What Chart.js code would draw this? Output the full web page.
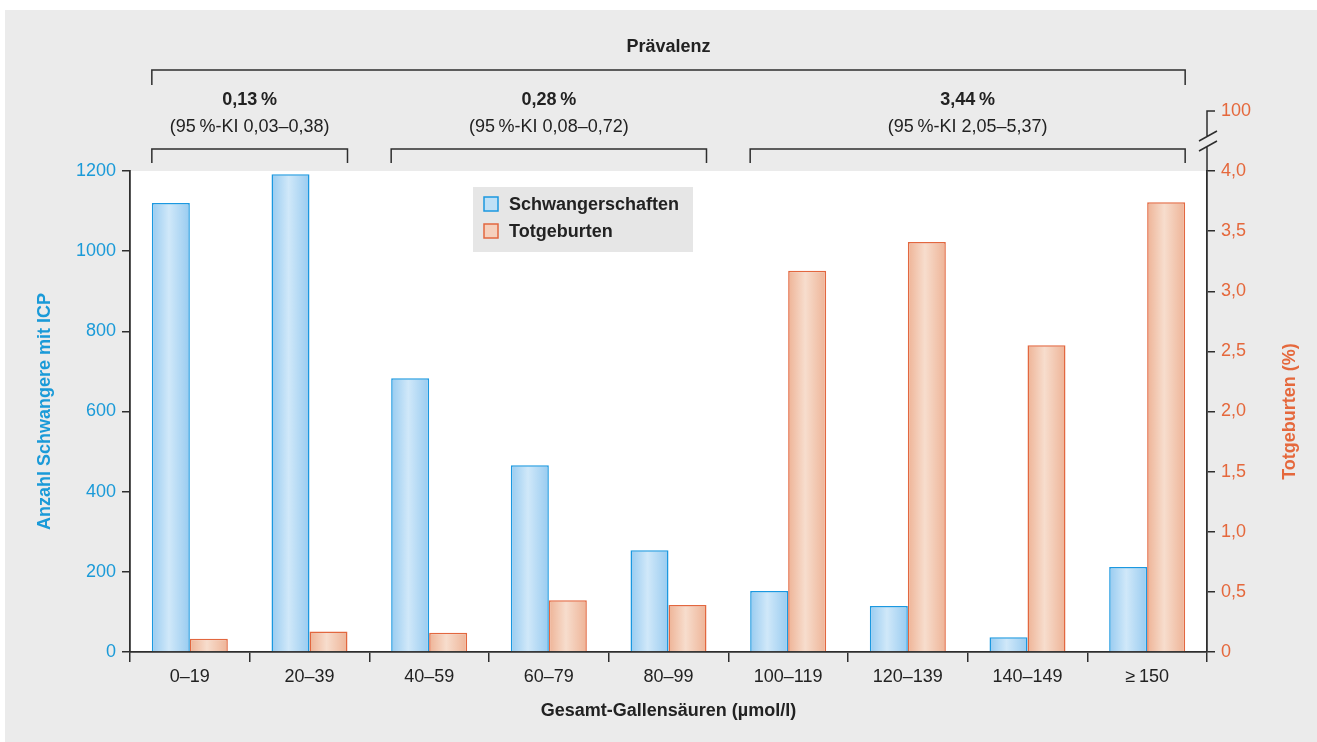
<!DOCTYPE html>
<html>
<head>
<meta charset="utf-8">
<script src="https://cdn.jsdelivr.net/npm/chart.js@4.4.1/dist/chart.umd.min.js"></script>
<style>
    html, body { margin: 0; padding: 0; background: #fff; }
    #wrap { position: absolute; left: 5px; top: 10px; width: 1312px; height: 732px; background: #ebebeb; }
</style>
</head>
<body>
<div id="wrap"><canvas id="chart" width="1312" height="732"></canvas></div>
<script>
// Data
const categories = ['0–19', '20–39', '40–59', '60–79', '80–99', '100–119', '120–139', '140–149', '≥\u2009150'];
const pregnancies = [1120, 1192, 683, 466, 254, 152, 115, 37, 212];
const stillbirths = [0.11, 0.17, 0.16, 0.43, 0.39, 3.17, 3.41, 2.55, 3.74];

// Prävalenz groups (first / last category index)
const groupStart = [0, 2, 5];
const groupEnd = [1, 4, 8];
const groupRate = ['0,13\u2009%', '0,28\u2009%', '3,44\u2009%'];
const groupCI = ['(95\u2009%-KI 0,03–0,38)', '(95\u2009%-KI 0,08–0,72)', '(95\u2009%-KI 2,05–5,37)'];

const BLUE = '#1a9ad8';
const ORANGE = '#e5683c';
const AXIS = '#2e2e2e';
const TEXT = '#222';
const FONT = "'Liberation Sans', Arial, sans-serif";

Chart.defaults.font.family = FONT;
Chart.defaults.font.size = 18;

const decor = {
    id: 'decor',
    beforeDraw(chart) {
        const { ctx, chartArea: a } = chart;
        ctx.save();
        ctx.fillStyle = '#fff';
        ctx.fillRect(a.left, a.top, a.right - a.left, a.bottom - a.top);
        ctx.restore();
    },
    beforeDatasetsDraw(chart) {
        // horizontal shading on each bar
        const ctx = chart.ctx;
        const shades = [['#98cbf0', '#d0e8f9'], ['#eeb396', '#f7ddcd']];
        chart.data.datasets.forEach((ds, di) => {
            chart.getDatasetMeta(di).data.forEach(el => {
                const g = ctx.createLinearGradient(el.x - el.width / 2, 0, el.x + el.width / 2, 0);
                g.addColorStop(0, shades[di][0]);
                g.addColorStop(0.45, shades[di][1]);
                g.addColorStop(1, shades[di][0]);
                el.options.backgroundColor = g;
            });
        });
    },
    afterDraw(chart) {
        const { ctx, chartArea: a } = chart;
        const m0 = chart.getDatasetMeta(0).data;
        const m1 = chart.getDatasetMeta(1).data;
        const leftOf = i => m0[i].x - m0[i].width / 2;
        const rightOf = i => m1[i].x + m1[i].width / 2;

        ctx.save();
        ctx.strokeStyle = AXIS;
        ctx.lineWidth = 1.5;
        ctx.fillStyle = TEXT;
        ctx.textAlign = 'center';
        ctx.textBaseline = 'middle';

        const bracket = (x1, x2, y, legs) => {
            ctx.beginPath();
            ctx.moveTo(x1, y + legs);
            ctx.lineTo(x1, y);
            ctx.lineTo(x2, y);
            ctx.lineTo(x2, y + legs);
            ctx.stroke();
        };

        // overall bracket
        const bx1 = leftOf(0), bx2 = rightOf(categories.length - 1);
        bracket(bx1, bx2, a.top - 101, 15);
        ctx.font = 'bold 18px ' + FONT;
        ctx.fillText('Prävalenz', (bx1 + bx2) / 2, a.top - 124);

        // group brackets
        groupStart.forEach((s, g) => {
            const x1 = leftOf(s), x2 = rightOf(groupEnd[g]);
            bracket(x1, x2, a.top - 22, 14);
            ctx.font = 'bold 18px ' + FONT;
            ctx.fillText(groupRate[g], (x1 + x2) / 2, a.top - 71);
            ctx.font = '18px ' + FONT;
            ctx.fillText(groupCI[g], (x1 + x2) / 2, a.top - 44);
        });

        // right axis: break and 100 tick
        const rx = chart.scales.y1.left;
        ctx.beginPath();
        ctx.moveTo(rx, a.top); ctx.lineTo(rx, a.top - 25);
        ctx.moveTo(rx, a.top - 34); ctx.lineTo(rx, a.top - 60); ctx.lineTo(rx + 8, a.top - 60);
        ctx.moveTo(rx - 8, a.top - 20); ctx.lineTo(rx + 10, a.top - 30);
        ctx.moveTo(rx - 8, a.top - 30); ctx.lineTo(rx + 10, a.top - 40);
        ctx.stroke();
        ctx.fillStyle = ORANGE;
        ctx.textAlign = 'left';
        ctx.font = '18px ' + FONT;
        ctx.fillText('100', rx + 14, a.top - 60);

        // right axis title, reading bottom to top
        ctx.save();
        ctx.translate(chart.width - 27, (a.top + a.bottom) / 2);
        ctx.rotate(-Math.PI / 2);
        ctx.textAlign = 'center';
        ctx.font = 'bold 18px ' + FONT;
        ctx.fillText('Totgeburten (%)', 0, 0);
        ctx.restore();

        // legend
        const lx = a.left + 343, ly = a.top + 16;
        ctx.fillStyle = '#e6e6e6';
        ctx.fillRect(lx, ly, 220, 65);
        const fills = ['#bfe0f6', '#f5d0bd'];
        chart.data.datasets.forEach((ds, i) => {
            const y = ly + 10 + i * 27;
            ctx.fillStyle = fills[i];
            ctx.fillRect(lx + 11, y, 14, 14);
            ctx.strokeStyle = ds.borderColor;
            ctx.strokeRect(lx + 11, y, 14, 14);
            ctx.fillStyle = TEXT;
            ctx.font = 'bold 18px ' + FONT;
            ctx.textAlign = 'left';
            ctx.fillText(ds.label, lx + 36, y + 8);
        });
        ctx.restore();
    }
};

new Chart(document.getElementById('chart'), {
    type: 'bar',
    data: {
        labels: categories,
        datasets: [{
            label: 'Schwangerschaften',
            data: pregnancies,
            backgroundColor: () => '#bfe0f6',
            borderColor: '#1b98e0',
            borderWidth: 1.5,
            yAxisID: 'y',
            categoryPercentage: 0.635,
            barPercentage: 1.0
        }, {
            label: 'Totgeburten',
            data: stillbirths,
            backgroundColor: () => '#f5d0bd',
            borderColor: '#e2673f',
            borderWidth: 1.5,
            yAxisID: 'y1',
            categoryPercentage: 0.635,
            barPercentage: 1.0
        }]
    },
    options: {
        responsive: false,
        animation: false,
        devicePixelRatio: 1,
        layout: { padding: { top: 161, left: 0, right: 0, bottom: 0 } },
        plugins: {
            legend: { display: false },
            tooltip: { enabled: false }
        },
        scales: {
            x: {
                grid: { drawOnChartArea: false, offset: true, tickLength: 10, color: AXIS, lineWidth: 1.5 },
                border: { color: AXIS, width: 1.8 },
                ticks: { color: TEXT, padding: 4 },
                title: {
                    display: true,
                    text: 'Gesamt-Gallensäuren (µmol/l)',
                    color: TEXT,
                    font: { weight: 'bold', size: 18 },
                    padding: { top: 0, bottom: 20 }
                },
                afterFit: s => { s.height = 90; }
            },
            y: {
                position: 'left',
                min: 0,
                max: 1200,
                ticks: { stepSize: 200, color: BLUE, padding: 6, callback: v => String(v) },
                grid: { drawOnChartArea: false, tickLength: 8, color: AXIS, lineWidth: 1.5 },
                border: { color: AXIS, width: 1.8 },
                title: {
                    display: true,
                    text: 'Anzahl Schwangere mit ICP',
                    color: BLUE,
                    font: { weight: 'bold', size: 18 },
                    padding: { top: 29, bottom: 0 }
                },
                afterFit: s => { s.width = 125; }
            },
            y1: {
                position: 'right',
                min: 0,
                max: 4,
                ticks: {
                    stepSize: 0.5,
                    color: ORANGE,
                    padding: 6,
                    callback: v => v === 0 ? '0' : v.toFixed(1).replace('.', ',')
                },
                grid: { drawOnChartArea: false, tickLength: 8, color: AXIS, lineWidth: 1.5 },
                border: { color: AXIS, width: 1.8 },
                afterFit: s => { s.width = 110; }
            }
        }
    },
    plugins: [decor]
});
</script>
</body>
</html>
